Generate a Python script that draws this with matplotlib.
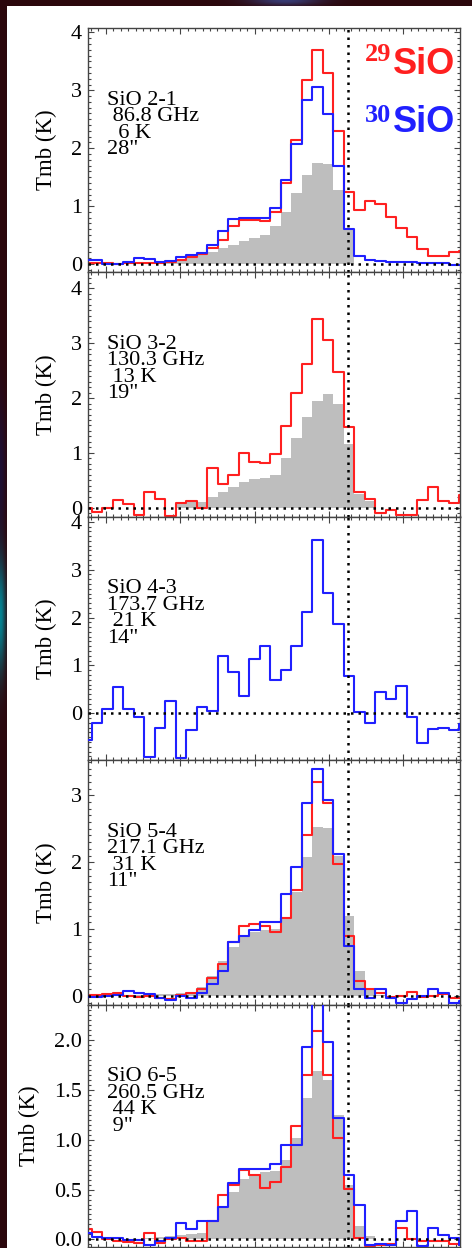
import numpy as np
import matplotlib
matplotlib.use("Agg")
import matplotlib.pyplot as plt
from matplotlib.ticker import MultipleLocator, FormatStrFormatter

plt.rcParams['font.family'] = ['Liberation Serif', 'DejaVu Serif']

# channel centres (km/s) and systemic velocity
vel = np.round(-65.2 + 2.823 * np.arange(37), 2)
v_sys = 5.2

# SiO 2-1
t21_main = [0, 0, 0, 0, 0, 0.01, 0.01, 0.01, 0.02, 0.05,
            0.10, 0.15, 0.21, 0.27, 0.33, 0.40, 0.45, 0.50, 0.65, 0.90,
            1.23, 1.54, 1.74, 1.72, 1.27, 0.58, 0, 0, 0, 0,
            0, 0, 0, 0, 0, 0, 0]
t21_29 = [0.02, 0.02, 0.01, 0.00, 0.01, 0.01, 0.01, 0.01, 0.04, 0.07,
          0.12, 0.18, 0.27, 0.41, 0.65, 0.76, 0.76, 0.74, 0.89, 1.40,
          2.15, 3.17, 3.69, 3.30, 2.30, 1.25, 0.93, 1.09, 1.04, 0.82,
          0.62, 0.46, 0.26, 0.14, 0.14, 0.20, 0.22]
t21_30 = [0.07, 0.07, 0.00, 0.00, 0.03, 0.10, 0.09, 0.04, 0.05, 0.12,
          0.15, 0.19, 0.33, 0.57, 0.78, 0.79, 0.80, 0.80, 0.96, 1.45,
          2.08, 2.84, 3.06, 2.59, 1.69, 0.60, 0.13, 0.07, 0.05, 0.04,
          0.03, 0.03, 0.02, 0.01, 0.01, -0.01, -0.02]

# SiO 3-2
t32_main = [0, 0, 0, 0, 0, 0, 0, 0, 0, 0.10,
            0.11, 0.11, 0.19, 0.28, 0.37, 0.46, 0.52, 0.55, 0.60, 0.90,
            1.27, 1.66, 1.94, 2.07, 1.90, 1.16, 0.25, 0.12, 0, 0,
            0, 0, 0, 0, 0, 0, 0]
t32_29 = [0.00, -0.07, 0.00, 0.14, 0.06, -0.13, 0.28, 0.16, -0.16, 0.08,
          0.12, 0.00, 0.72, 0.43, 0.60, 0.99, 0.84, 0.82, 0.98, 1.49,
          2.09, 2.62, 3.44, 3.06, 2.48, 1.48, 0.28, 0.16, -0.09, -0.05,
          -0.13, -0.13, 0.14, 0.38, 0.12, 0.09, 0.23]

# SiO 4-3
t43_30 = [-0.56, -0.21, 0.10, 0.54, 0.10, -0.07, -0.92, -0.31, 0.26, -0.94,
          -0.35, 0.13, 0.05, 1.20, 0.86, 0.36, 1.13, 1.41, 0.70, 0.91,
          1.41, 2.12, 3.62, 2.51, 1.87, 0.78, 0.02, -0.21, 0.45, 0.29,
          0.58, -0.07, -0.63, -0.33, -0.31, -0.35, -0.23]

# SiO 5-4
t54_main = [0.01, 0.01, 0.01, 0.01, 0.02, 0.02, 0.02, 0.03, 0.03, 0.04,
            0.06, 0.14, 0.30, 0.53, 0.74, 0.90, 0.96, 0.99, 1.00, 1.15,
            1.55, 2.08, 2.52, 2.51, 2.10, 1.20, 0.38, 0.10, 0.02, 0,
            0, 0, 0, 0, 0, 0, 0]
t54_29 = [0.02, 0.02, 0.03, 0.04, 0.00, -0.02, 0.00, -0.03, -0.04, 0.02,
          0.05, 0.11, 0.27, 0.48, 0.81, 1.05, 1.07, 1.04, 0.96, 1.16,
          1.58, 2.41, 3.20, 2.88, 1.98, 0.90, 0.22, 0.10, 0.04, -0.01,
          0.00, 0.06, -0.01, 0.00, 0.03, -0.03, -0.03]
t54_30 = [-0.01, -0.01, 0.00, 0.02, 0.08, 0.05, 0.03, -0.03, -0.06, 0.00,
          -0.03, 0.05, 0.18, 0.38, 0.81, 0.90, 0.98, 1.11, 1.11, 1.52,
          1.93, 2.88, 3.39, 2.93, 2.12, 0.75, 0.10, -0.03, 0.11, -0.03,
          -0.11, -0.05, 0.00, 0.11, 0.05, -0.11, -0.08]

# SiO 6-5
t65_main = [0, 0, 0, 0, 0, 0, 0.01, 0.02, 0.03, 0.04,
            0.05, 0.06, 0.18, 0.33, 0.48, 0.61, 0.66, 0.68, 0.69, 0.80,
            1.02, 1.42, 1.69, 1.60, 1.25, 0.55, 0.13, 0.03, 0, 0,
            0, 0, 0, 0, 0, 0, 0]
t65_29 = [0.10, 0.07, 0.00, -0.02, -0.03, -0.04, 0.06, -0.04, 0.00, 0.01,
          -0.02, -0.02, 0.18, 0.45, 0.55, 0.70, 0.65, 0.52, 0.58, 0.73,
          1.14, 1.65, 2.09, 1.65, 1.02, 0.51, 0.01, -0.07, -0.06, -0.05,
          0.11, 0.00, -0.02, -0.02, -0.02, -0.05, -0.06]
t65_30 = [0.06, 0.02, 0.01, 0.01, -0.01, -0.01, -0.06, -0.02, 0.01, 0.16,
          0.10, 0.18, 0.18, 0.32, 0.57, 0.71, 0.71, 0.71, 0.76, 0.95,
          0.95, 1.93, 2.45, 1.98, 1.22, 0.65, 0.35, -0.06, -0.05, -0.06,
          0.18, 0.28, -0.07, 0.11, 0.04, 0.01, -0.06]

labels = [['SiO 2-1', ' 86.8 GHz', '  6 K', '28"'],
          ['SiO 3-2', '130.3 GHz', ' 13 K', '19"'],
          ['SiO 4-3', '173.7 GHz', ' 21 K', '14"'],
          ['SiO 5-4', '217.1 GHz', ' 31 K', '11"'],
          ['SiO 6-5', '260.5 GHz', ' 44 K', ' 9"']]

panels = [
    (t21_main, t21_29, t21_30, (-0.138, 4.076), 1.0, '%d'),
    (t32_main, t32_29, None, (-0.161, 4.301), 1.0, '%d'),
    (None, None, t43_30, (-0.975, 4.109), 1.0, '%d'),
    (t54_main, t54_29, t54_30, (-0.127, 3.528), 1.0, '%d'),
    (t65_main, t65_29, t65_30, (-0.077, 2.360), 0.5, '%.1f'),
]

RED = '#ff2020'
BLUE = '#2020ff'
W, H = 472, 1248

fig = plt.figure(figsize=(W / 100, H / 100), dpi=100)

# dark sky behind the white plotting sheet
yy, xx = np.mgrid[0:H, 0:W]
img = np.empty((H, W, 3))
img[:] = (0.17, 0.03, 0.05)
teal = np.exp(-((yy - 615) / 55.0) ** 2 - (xx / 5.0) ** 2)
img += teal[..., None] * np.array([-0.15, 0.48, 0.52])
violet = np.exp(-((yy - 470) / 70.0) ** 2 - (xx / 5.0) ** 2)
img += violet[..., None] * np.array([-0.05, 0.03, 0.15])
glow = np.exp(-((xx - 285) / 35.0) ** 2 - (yy / 5.0) ** 2)
img += glow[..., None] * np.array([0.05, 0.2, 0.4])
img = np.clip(img, 0, 1)
img[6:, 7:] = 1.0
bg = fig.add_axes([0, 0, 1, 1])
bg.imshow(img, aspect='auto', interpolation='bilinear')
bg.set_axis_off()

edges = [28, 272, 516.5, 760, 1004.5, 1247]
x0, x1 = 88, 460

for i, (main, iso29, iso30, ylim, major, fmt) in enumerate(panels):
    top, bot = edges[i], edges[i + 1]
    ax = fig.add_axes([x0 / W, 1 - bot / H, (x1 - x0) / W, (bot - top) / H])

    if main is not None:
        ax.fill_between(vel, 0, main, step='mid', color='#bebebe', lw=0, zorder=1)
    if iso29 is not None:
        ax.step(vel, iso29, where='mid', color=RED, lw=1.5, zorder=2)
    if iso30 is not None:
        ax.step(vel, iso30, where='mid', color=BLUE, lw=1.5, zorder=3)

    ax.axhline(0, color='k', lw=1.8, ls=(0, (1, 2)), zorder=4)
    ax.axvline(v_sys, color='k', lw=1.8, ls=(0, (1, 2)), zorder=4)

    ax.set_xlim(-64.8, 35.2)
    ax.set_ylim(*ylim)
    ax.xaxis.set_major_locator(MultipleLocator(20))
    ax.xaxis.set_minor_locator(MultipleLocator(2))
    ax.yaxis.set_major_locator(MultipleLocator(major))
    ax.yaxis.set_minor_locator(MultipleLocator(major / 10))
    ax.yaxis.set_major_formatter(FormatStrFormatter(fmt))
    ax.tick_params(which='both', direction='in', top=True, right=True,
                   labelbottom=False, color='#444444', width=0.8)
    ax.tick_params(which='major', length=4.5, labelsize=16, pad=4.5)
    ax.tick_params(which='minor', length=2.2)
    for s in ax.spines.values():
        s.set_color('#444444')
        s.set_linewidth(1.0)
    ax.set_ylabel('Tmb (K)', fontsize=16.5, labelpad=10)

    for j, line in enumerate(labels[i]):
        ax.annotate(line, xy=(0, 1), xycoords='axes fraction',
                    xytext=(13.7, -55.1 - 11.9 * j), textcoords='offset points',
                    ha='left', va='baseline', fontsize=16, zorder=5)

    if i == 0:
        for sup, base_sup, base_sio, col in (('29', 24.1, 33.1, RED),
                                             ('30', 67.7, 74.9, BLUE)):
            ax.annotate(sup, xy=(0, 1), xycoords='axes fraction',
                        xytext=(199.5, -base_sup), textcoords='offset points',
                        ha='left', va='baseline', fontsize=19,
                        fontweight='bold', color=col, zorder=5)
            ax.annotate('SiO', xy=(0, 1), xycoords='axes fraction',
                        xytext=(219.6, -base_sio), textcoords='offset points',
                        ha='left', va='baseline', fontsize=26,
                        fontweight='bold', color=col, zorder=5,
                        family=['Liberation Sans', 'DejaVu Sans'])

fig.savefig('out.png', dpi=100)
